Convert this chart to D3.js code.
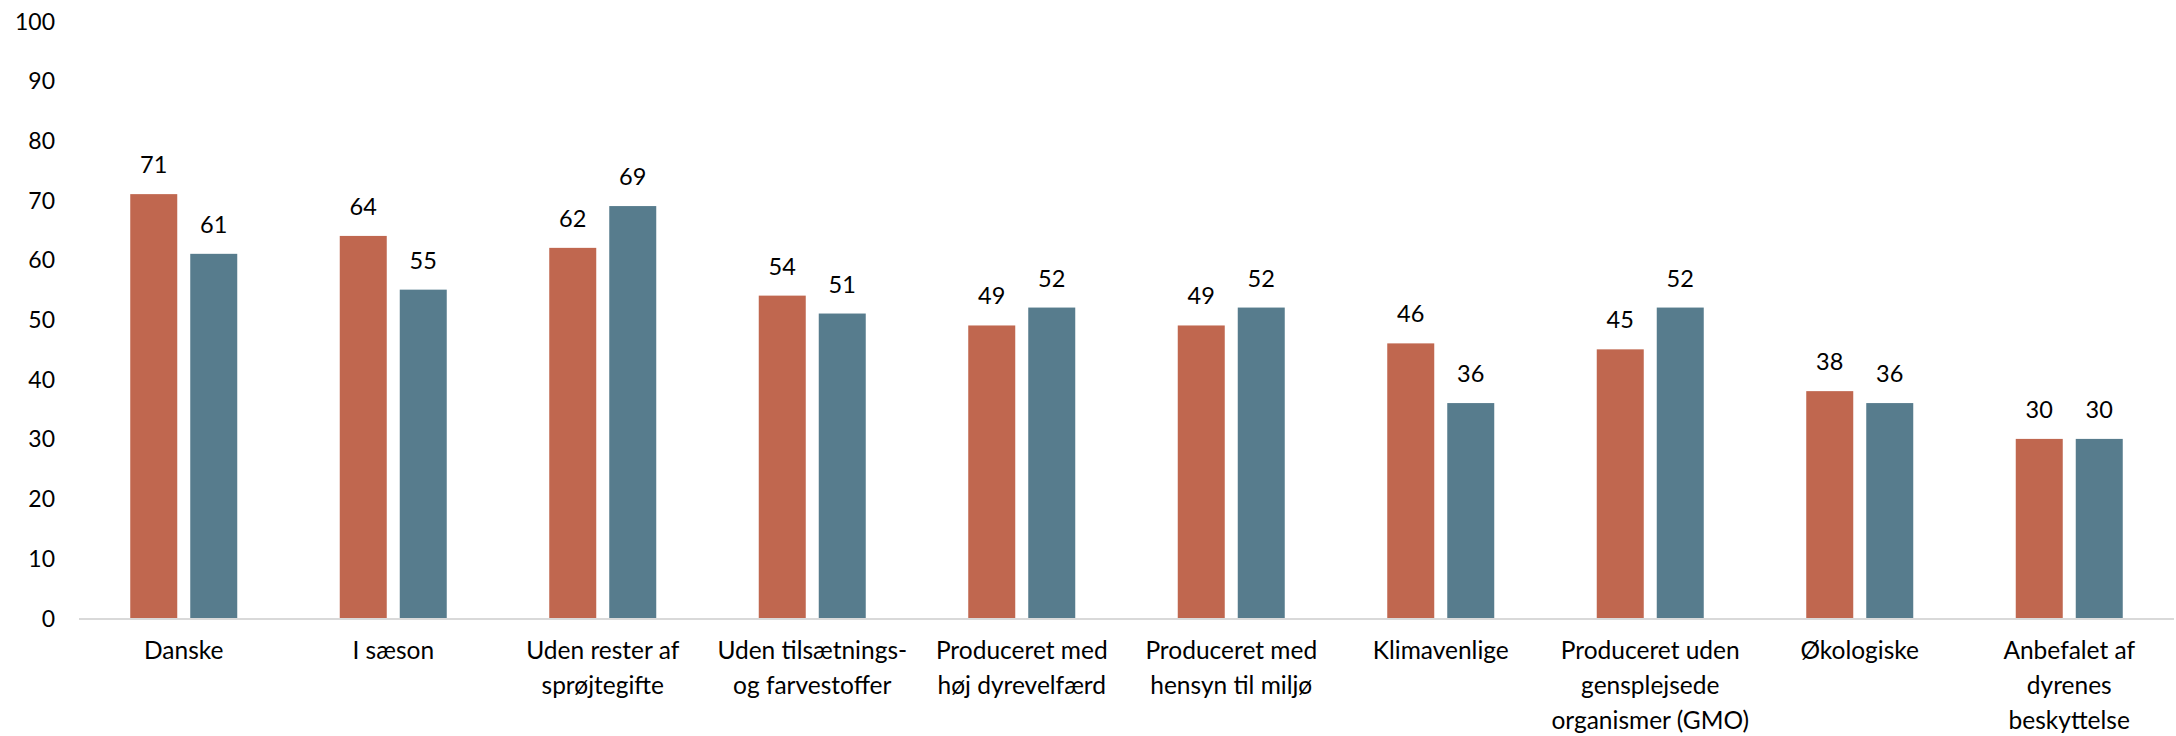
<!DOCTYPE html>
<html>
<head>
<meta charset="utf-8">
<script src="https://cdn.jsdelivr.net/npm/d3@7"></script>
<style>
  body { margin: 0; background: #fff; }
  text { font-family: Lato, "Noto Sans", sans-serif; fill: #000; }
</style>
</head>
<body>
<div id="chart"></div>
<script>
// categories (each split into label lines) and the two series
var categories = ["Danske", "I sæson", "Uden rester af sprøjtegifte", "Uden tilsætnings- og farvestoffer",
  "Produceret med høj dyrevelfærd", "Produceret med hensyn til miljø", "Klimavenlige",
  "Produceret uden gensplejsede organismer (GMO)", "Økologiske", "Anbefalet af dyrenes beskyttelse"];
var categoryLines = [["Danske"], ["I sæson"], ["Uden rester af", "sprøjtegifte"], ["Uden tilsætnings-", "og farvestoffer"],
  ["Produceret med", "høj dyrevelfærd"], ["Produceret med", "hensyn til miljø"], ["Klimavenlige"],
  ["Produceret uden", "gensplejsede", "organismer (GMO)"], ["Økologiske"], ["Anbefalet af", "dyrenes", "beskyttelse"]];
var seriesNames = ["Serie 1", "Serie 2"];
var series1 = [71, 64, 62, 54, 49, 49, 46, 45, 38, 30];
var series2 = [61, 55, 69, 51, 52, 52, 36, 52, 36, 30];
var yTicks = [0, 10, 20, 30, 40, 50, 60, 70, 80, 90, 100];

var colors = ["#C0674F", "#577C8D"];

var svgWidth = 2176;
var svgHeight = 736;

var margin = { top: 21, right: 2, bottom: 118, left: 79 };
var chartWidth = svgWidth - margin.left - margin.right;
var chartHeight = svgHeight - margin.top - margin.bottom;

var svg = d3.select("#chart")
  .append("svg")
  .attr("width", svgWidth)
  .attr("height", svgHeight);

var chartGroup = svg.append("g")
  .attr("transform", `translate(${margin.left}, ${margin.top})`);

var data = categories.map(function (c, i) {
  return { cat: c, lines: categoryLines[i], values: [series1[i], series2[i]] };
});

// scales
var x0 = d3.scaleBand()
  .domain(categories)
  .range([0, chartWidth]);

var groupWidth = 107;
var x1 = d3.scaleBand()
  .domain(seriesNames)
  .range([x0.bandwidth() / 2 - groupWidth / 2, x0.bandwidth() / 2 + groupWidth / 2])
  .paddingInner(13 / 60);

var y = d3.scaleLinear()
  .domain([0, 100])
  .range([chartHeight, 0]);

// y axis: labels only
var leftAxis = d3.axisLeft(y).tickValues(yTicks).tickSize(0).tickPadding(24);
var yAxis = chartGroup.append("g").call(leftAxis);
yAxis.select(".domain").remove();
yAxis.selectAll("text")
  .style("font-size", "23px")
  .attr("dy", "0.35em");

// bars
var groups = chartGroup.selectAll(".cat")
  .data(data)
  .enter()
  .append("g")
  .attr("class", "cat")
  .attr("transform", d => `translate(${x0(d.cat)}, 0)`);

groups.selectAll("rect")
  .data(d => d.values.map((v, i) => ({ name: seriesNames[i], value: v, i: i })))
  .enter()
  .append("rect")
  .attr("x", d => x1(d.name))
  .attr("y", d => y(d.value))
  .attr("width", x1.bandwidth())
  .attr("height", d => chartHeight - y(d.value))
  .attr("fill", d => colors[d.i]);

// value labels
groups.selectAll(".val")
  .data(d => d.values.map((v, i) => ({ name: seriesNames[i], value: v })))
  .enter()
  .append("text")
  .attr("class", "val")
  .attr("x", d => x1(d.name) + x1.bandwidth() / 2)
  .attr("y", d => y(d.value) - 21)
  .attr("text-anchor", "middle")
  .style("font-size", "23.5px")
  .text(d => d.value);

// x axis line
chartGroup.append("line")
  .attr("x1", 0)
  .attr("x2", chartWidth)
  .attr("y1", chartHeight + 1)
  .attr("y2", chartHeight + 1)
  .attr("stroke", "#d9d9d9")
  .attr("stroke-width", 2);

// category labels
groups.append("text")
  .attr("text-anchor", "middle")
  .style("font-size", "24.5px")
  .attr("transform", `translate(${x0.bandwidth() / 2}, ${chartHeight + 41})`)
  .selectAll("tspan")
  .data(d => d.lines)
  .enter()
  .append("tspan")
  .attr("x", 0)
  .attr("dy", (d, i) => i === 0 ? 0 : 35)
  .text(d => d);
</script>
</body>
</html>
